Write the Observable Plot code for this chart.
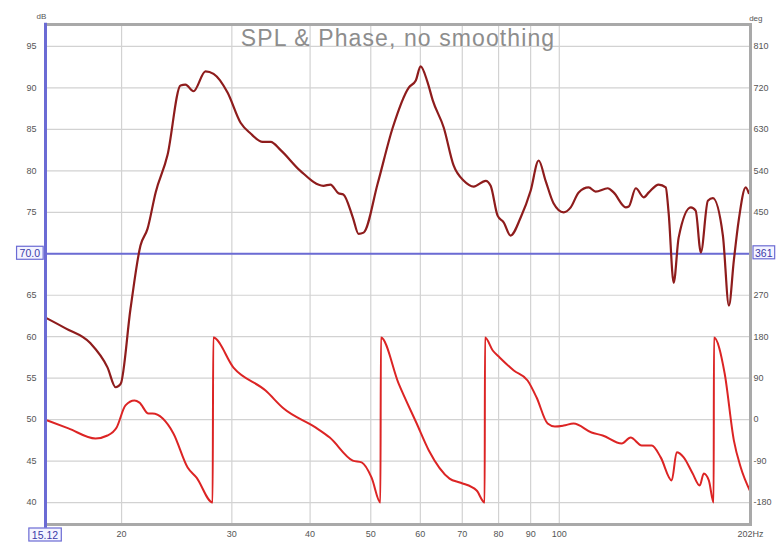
<!DOCTYPE html>
<html>
<head>
<meta charset="utf-8">
<script src="https://cdn.jsdelivr.net/npm/d3@7"></script>
<script src="https://cdn.jsdelivr.net/npm/@observablehq/plot@0.6"></script>
<style>
  body { margin: 0; background: #fff; }
  #chart svg { display: block; font-family: "Liberation Sans", Arial, sans-serif; }
  .chart-title text { letter-spacing: 1.1px; }
</style>
</head>
<body>
<div id="chart"></div>
<script>
// SPL magnitude (dB) against frequency (Hz)
const splFreq = [15.12, 16.28, 17.84, 18.99, 19.57, 19.93, 20.67, 21.44, 22.0, 22.67, 23.68, 24.84, 25.3, 26.05, 27.23, 28.05, 29.53, 30.98, 32.14, 33.6, 34.6, 35.9, 38.6, 42.0, 43.1, 44.4, 45.2, 46.8, 47.8, 48.7, 51.3, 54.2, 57.5, 59.0, 60.06, 61.6, 62.8, 65.4, 67.8, 70.4, 73.0, 76.3, 77.7, 79.7, 81.5, 83.6, 86.8, 90.0, 92.7, 95.1, 97.9, 101.6, 104.3, 107.4, 111.4, 114.3, 119.5, 122.1, 127.7, 129.1, 132.5, 136.4, 139.0, 144.1, 147.9, 149.5, 152.3, 155.1, 162.2, 165.1, 168.3, 172.7, 175.9, 182.5, 186.6, 190.0, 193.4, 198.5, 200.7];
const splDb = [62.3, 61.0, 59.2, 56.3, 53.9, 54.3, 63.4, 71.0, 73.0, 77.4, 81.9, 90.3, 90.4, 89.6, 92.0, 91.7, 89.45, 85.8, 84.5, 83.5, 83.5, 82.5, 80.0, 78.2, 78.35, 77.3, 77.15, 74.4, 72.4, 72.55, 78.5, 85.2, 90.05, 90.9, 92.6, 90.7, 88.5, 85.2, 80.65, 78.8, 78.1, 78.8, 78.2, 74.6, 73.8, 72.2, 74.4, 77.6, 81.25, 78.8, 76.1, 75.0, 75.6, 77.4, 78.0, 77.5, 77.9, 77.4, 75.6, 75.7, 77.9, 76.8, 77.4, 78.35, 78.0, 74.9, 66.5, 71.95, 75.6, 75.2, 70.15, 76.4, 76.7, 72.2, 63.75, 69.2, 74.0, 78.0, 77.3];

// Wrapped phase (degrees) against frequency (Hz)
const phaseFreq = [15.23, 16.45, 18.17, 18.99, 19.64, 20.29, 20.97, 21.36, 22.08, 22.41, 24.2, 25.5, 26.35, 27.95, 28.02, 30.18, 33.96, 36.3, 40.8, 43.0, 46.8, 48.35, 50.15, 51.8, 51.9, 55.4, 59.2, 61.9, 66.8, 69.6, 73.8, 76.0, 76.1, 78.3, 80.3, 84.6, 89.0, 92.0, 95.8, 98.4, 101.6, 105.4, 112.6, 117.3, 125.8, 130.0, 135.4, 140.5, 145.2, 151.2, 154.0, 158.0, 163.3, 167.6, 170.1, 173.3, 176.4, 176.6, 183.7, 190.0, 194.9, 201.5];
const phaseDeg = [-2, -19, -41, -34.5, -17, 31, 41.5, 37, 13, 13, -30, -104, -126, -180, 178, 113, 63, 24, -17, -39, -89, -93, -126, -180, 178, 78, -8.5, -67, -128, -137, -154, -180, 178, 150, 135, 106.6, 85, 48, -8.5, -15, -13, -8.5, -28, -34.5, -52, -39, -56, -56, -82, -132, -71, -82, -117, -143, -117, -132, -180, 178, 100, -45, -104, -154];

// Axis ticks
const dbTicks = [40, 45, 50, 55, 60, 65, 75, 80, 85, 90, 95];
const gridDb = [40, 45, 50, 55, 60, 65, 70, 75, 80, 85, 90, 95];
const degTicks = [-180, -90, 0, 90, 180, 270, 450, 540, 630, 720, 810];
const freqTicks = [20, 30, 40, 50, 60, 70, 80, 90, 100];
const startFreq = 15.12;
const endFreq = 202;
const cursorDb = 70.0;
const cursorDeg = 361;
const title = "SPL & Phase, no smoothing";

// Phase shares the dB axis: 0 deg sits at 50 dB and 18 deg span one dB
const degToDb = d => d / 18 + 50;

const blue = "#6b6bd4";
const textBlue = "#3a3aa8";
const grey = "#a9a9a9";

const chart = Plot.plot({
  width: 778,
  height: 545,
  marginLeft: 45,
  marginRight: 28,
  marginTop: 24,
  marginBottom: 21,
  x: {type: "log", domain: [startFreq, endFreq], axis: null},
  y: {domain: [37.35, 97.65], axis: null},
  style: {fontFamily: "'Liberation Sans', Arial, sans-serif", background: "#fff"},
  marks: [
    Plot.gridY({ticks: gridDb, stroke: "#d2d2d2", strokeOpacity: 1, strokeWidth: 1.2}),
    Plot.gridX({ticks: freqTicks, stroke: "#d2d2d2", strokeOpacity: 1, strokeWidth: 1.2}),
    Plot.ruleY([cursorDb], {stroke: blue, strokeWidth: 2}),
    Plot.line(phaseFreq, {x: phaseFreq, y: phaseDeg.map(degToDb), stroke: "#dc2424", strokeWidth: 2, curve: "monotone-x"}),
    Plot.line(splFreq, {x: splFreq, y: splDb, stroke: "#8e1c1c", strokeWidth: 2.2, curve: "monotone-x"}),
    Plot.frame({stroke: grey, strokeWidth: 3}),
    Plot.ruleX([startFreq], {stroke: blue, strokeWidth: 3, y1: 36.9, y2: 97.8}),
    Plot.axisY({anchor: "left", ticks: dbTicks, tickSize: 0, tickPadding: 9, fontSize: 9, fill: "#555", label: null}),
    Plot.axisY({anchor: "right", ticks: degTicks.map(degToDb), tickFormat: d => String(Math.round((d - 50) * 18)), tickSize: 0, tickPadding: 3, fontSize: 9, fill: "#555", label: null}),
    Plot.axisX({ticks: [...freqTicks, endFreq], tickFormat: d => d === endFreq ? `${endFreq}Hz` : String(d), tickSize: 0, tickPadding: 6, fontSize: 9, fill: "#555", label: null}),
    Plot.text([title], {text: d => d, frameAnchor: "top", dy: 14, lineAnchor: "middle", fontSize: 23, fill: "#8d8d8d", className: "chart-title"}),
    Plot.text(["dB"], {text: d => d, frameAnchor: "top-left", dx: -9, dy: -11, fontSize: 8, fill: "#555"}),
    Plot.text(["deg"], {text: d => d, frameAnchor: "top-right", dx: 12, dy: -9, fontSize: 8, fill: "#555"})
  ]
});

document.getElementById("chart").appendChild(chart);

// Boxed cursor readouts placed through the chart's own scales
const xs = chart.scale("x");
const ys = chart.scale("y");
const svg = d3.select(chart);

function boxedLabel(str, px, py, anchor, padX) {
  const g = svg.append("g");
  const t = g.append("text")
    .attr("x", px).attr("y", py)
    .attr("text-anchor", anchor)
    .attr("dominant-baseline", "central")
    .attr("font-size", 10.5)
    .attr("fill", textBlue)
    .text(str);
  const b = t.node().getBBox();
  g.insert("rect", "text")
    .attr("x", b.x - padX).attr("y", b.y - 1)
    .attr("width", b.width + 2 * padX).attr("height", b.height + 1)
    .attr("fill", "#f4f4ff").attr("stroke", blue).attr("stroke-width", 1.2);
}

boxedLabel(cursorDb.toFixed(1), xs.apply(startFreq) - 5, ys.apply(cursorDb), "end", 3);
boxedLabel(String(cursorDeg), xs.apply(endFreq) + 5, ys.apply(degToDb(cursorDeg)), "start", 2);
boxedLabel(String(startFreq), xs.apply(startFreq), ys.apply(37.35) + 11, "middle", 3);
</script>
</body>
</html>
